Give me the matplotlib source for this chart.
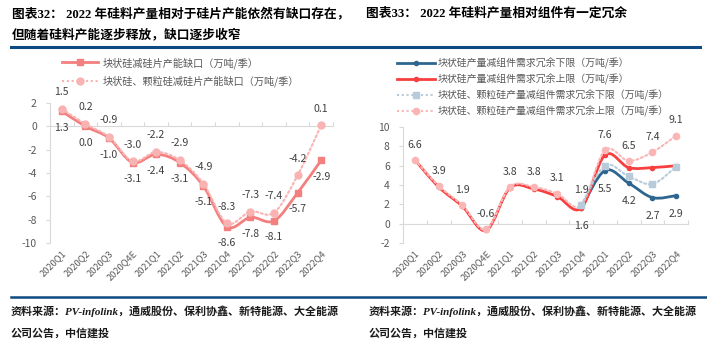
import numpy as np
import matplotlib
matplotlib.use("Agg")
import matplotlib.pyplot as plt
from matplotlib.path import Path
from matplotlib.patches import PathPatch
from matplotlib.lines import Line2D

plt.rcParams['font.family'] = ['Noto Sans CJK SC', 'DejaVu Sans']
plt.rcParams['axes.unicode_minus'] = False

# ---------------- data ----------------
categories = ["2020Q1", "2020Q2", "2020Q3", "2020Q4E", "2021Q1", "2021Q2",
              "2021Q3", "2021Q4", "2022Q1", "2022Q2", "2022Q3", "2022Q4"]

# left chart (图表32)
left_names = ["块状硅减硅片产能缺口（万吨/季）", "块状硅、颗粒硅减硅片产能缺口（万吨/季）"]
gap_lump = [1.3, 0.0, -1.0, -3.1, -2.4, -3.1, -5.1, -8.6, -7.8, -8.1, -5.7, -2.9]
gap_all = [1.5, 0.2, -0.9, -3.0, -2.2, -2.9, -4.9, -8.3, -7.3, -7.4, -4.2, 0.1]
left_yticks = [-10, -8, -6, -4, -2, 0, 2]

# right chart (图表33)
right_names = ["块状硅产量减组件需求冗余下限（万吨/季）", "块状硅产量减组件需求冗余上限（万吨/季）",
               "块状硅、颗粒硅产量减组件需求冗余下限（万吨/季）", "块状硅、颗粒硅产量减组件需求冗余上限（万吨/季）"]
nan = np.nan
lump_low = [nan, nan, nan, nan, nan, nan, nan, 1.6, 5.5, 4.2, 2.7, 2.9]
lump_high = [6.6, 3.8, 1.8, -0.7, 3.7, 3.6, 2.8, 1.6, 7.1, 5.8, 5.8, 6.0]
all_low = [nan, nan, nan, nan, nan, nan, nan, 1.9, 6.0, 4.9, 4.1, 5.9]
all_high = [6.6, 3.9, 1.9, -0.6, 3.8, 3.8, 3.1, 1.9, 7.6, 6.5, 7.4, 9.1]
right_yticks = [-2, 0, 2, 4, 6, 8, 10]

title_left_1 = "图表32： 2022 年硅料产量相对于硅片产能依然有缺口存在，"
title_left_2 = "但随着硅料产能逐步释放，缺口逐步收窄"
title_right = "图表33： 2022 年硅料产量相对组件有一定冗余"
source_1 = "资料来源：PV-infolink，通威股份、保利协鑫、新特能源、大全能源"
source_2 = "公司公告，中信建投"

# ---------------- helpers ----------------
W, H = 707, 348
fig = plt.figure(figsize=(W / 100, H / 100), dpi=100)

GRAY = "#D9D9D9"
TXT = "#595959"
LBL = "#404040"


def smooth_line(ax, values, color, lw, ls='-', z=2):
    xs = np.arange(len(values), dtype=float)
    ys = np.asarray(values, dtype=float)
    m = ~np.isnan(ys)
    pts = np.column_stack([xs[m], ys[m]])
    n = len(pts)
    verts = [pts[0]]
    codes = [Path.MOVETO]
    for i in range(n - 1):
        p0 = pts[max(i - 1, 0)]
        p1 = pts[i]
        p2 = pts[i + 1]
        p3 = pts[min(i + 2, n - 1)]
        c1 = p1 + (p2 - p0) / 6.0
        c2 = p2 - (p3 - p1) / 6.0
        verts += [c1, c2, p2]
        codes += [Path.CURVE4] * 3
    patch = PathPatch(Path(verts, codes), fill=False, edgecolor=color, lw=lw,
                      linestyle=ls, transform=ax.transData, zorder=z,
                      capstyle='round', joinstyle='round')
    ax.add_patch(patch)


def style_axes(ax, yticks, zero_frac):
    ax.set_xlim(-0.5, len(categories) - 0.5)
    ax.set_ylim(yticks[0], yticks[-1])
    for s in ['top', 'right', 'bottom']:
        ax.spines[s].set_visible(False)
    ax.spines['left'].set_color(GRAY)
    ax.spines['left'].set_linewidth(0.8)
    ax.set_yticks(yticks)
    ax.tick_params(axis='y', length=3, width=0.8, color=GRAY, labelcolor=TXT,
                   labelsize=7.5, pad=6.5)
    ax.set_xticks(range(len(categories)))
    ax.set_xticklabels(categories, rotation=45, ha='right', rotation_mode='anchor')
    ax.tick_params(axis='x', length=0, labelcolor=TXT, labelsize=6.7, pad=4)
    sec = ax.secondary_xaxis(zero_frac)
    sec.set_alignment('bottom')
    sec.set_xticks(np.arange(0.5, len(categories), 1.0))
    sec.tick_params(axis='x', direction='in', length=3, width=0.8, color=GRAY,
                    labelbottom=False, labeltop=False)
    for s in sec.spines.values():
        s.set_color(GRAY)
        s.set_linewidth(0.8)


def labels(ax, values, dy):
    for i, v in enumerate(values):
        if np.isnan(v):
            continue
        ax.annotate(f"{v:.1f}", (i, v), xytext=(0, dy), textcoords='offset points',
                    ha='center', va='center', fontsize=7.6, color=LBL, zorder=6)


# ---------------- left chart ----------------
axL = fig.add_axes([50 / W, 1 - 243 / H, 283 / W, 140 / H])
style_axes(axL, left_yticks, 10 / 12)
xs = np.arange(len(categories))
c_lump = "#F47F7F"
c_all = "#F9B3B3"
smooth_line(axL, gap_lump, c_lump, 2.0, '-', 3)
axL.plot(xs, gap_lump, ls='none', marker='s', ms=5, color=c_lump, zorder=4)
smooth_line(axL, gap_all, c_all, 1.5, (0, (1, 1.3)), 4)
axL.plot(xs, gap_all, ls='none', marker='o', ms=5, color=c_all, zorder=5)
labels(axL, gap_all, 12)
labels(axL, gap_lump, -12)

hL = [Line2D([], [], color=c_lump, lw=2.0, marker='s', ms=5),
      Line2D([], [], color=c_all, lw=1.5, ls=(0, (1, 1.3)), marker='o', ms=5)]
fig.legend(hL, left_names, loc='upper left', bbox_to_anchor=(62 / W, 1 - 57 / H),
           frameon=False, fontsize=7.3, labelcolor=TXT, handlelength=3.55,
           handletextpad=0.48, labelspacing=0.68, borderpad=0, borderaxespad=0,
           numpoints=1)

# ---------------- right chart ----------------
axR = fig.add_axes([403 / W, 1 - 243 / H, 285 / W, 116 / H])
style_axes(axR, right_yticks, 2 / 12)
c_low = "#2F6690"
c_high = "#F83F3F"
c_alow = "#B7CBDB"
c_ahigh = "#FBB5B5"
smooth_line(axR, lump_low, c_low, 2.0, '-', 2)
axR.plot(xs, lump_low, ls='none', marker='o', ms=3, color=c_low, zorder=2.5)
smooth_line(axR, lump_high, c_high, 2.0, '-', 3)
axR.plot(xs, lump_high, ls='none', marker='o', ms=3, color=c_high, zorder=3.5)
smooth_line(axR, all_high, c_ahigh, 1.5, (0, (1, 1.3)), 4)
axR.plot(xs, all_high, ls='none', marker='o', ms=4.5, color=c_ahigh, zorder=4.5)
smooth_line(axR, all_low, c_alow, 1.5, (0, (1, 1.3)), 5)
axR.plot(xs, all_low, ls='none', marker='s', ms=4.5, color=c_alow, zorder=5.5)
labels(axR, all_high, 11)
labels(axR, lump_low, -13)

hR = [Line2D([], [], color=c_low, lw=2.0, marker='o', ms=3),
      Line2D([], [], color=c_high, lw=2.0, marker='o', ms=3),
      Line2D([], [], color=c_alow, lw=1.5, ls=(0, (1, 1.3)), marker='s', ms=4.5),
      Line2D([], [], color=c_ahigh, lw=1.5, ls=(0, (1, 1.3)), marker='o', ms=4.5)]
fig.legend(hR, right_names, loc='upper left', bbox_to_anchor=(397 / W, 1 - 58 / H),
           frameon=False, fontsize=7.15, labelcolor=TXT, handlelength=3.8,
           handletextpad=0.28, labelspacing=0.45, borderpad=0, borderaxespad=0,
           numpoints=1)

# ---------------- header / footer ----------------
tfont = dict(family=['Liberation Serif', 'Noto Sans CJK SC'], weight='bold',
             fontsize=9.15, color='black', va='center', ha='left')
fig.text(12 / W, 1 - 14 / H, title_left_1, **tfont)
fig.text(12 / W, 1 - 35 / H, title_left_2, **tfont)
fig.text(366 / W, 1 - 14 / H, title_right, **tfont)

HDR = "#0D4A82"
fig.add_artist(Line2D([11 / W, 700 / W], [1 - 47 / H, 1 - 47 / H], color=HDR, lw=2.2,
                      transform=fig.transFigure))
fig.add_artist(Line2D([11 / W, 707 / W], [1 - 297 / H, 1 - 297 / H], color=HDR, lw=1.8,
                      transform=fig.transFigure))

sfont = dict(family=['Liberation Serif', 'Noto Sans CJK SC'], style='italic',
             weight='bold', fontsize=7.95, color='#1a1a1a', va='center', ha='left')
for x0 in (11, 369):
    fig.text(x0 / W, 1 - 311 / H, source_1, **sfont)
    fig.text(x0 / W, 1 - 333 / H, source_2, **sfont)

fig.savefig("out.png", dpi=100)
